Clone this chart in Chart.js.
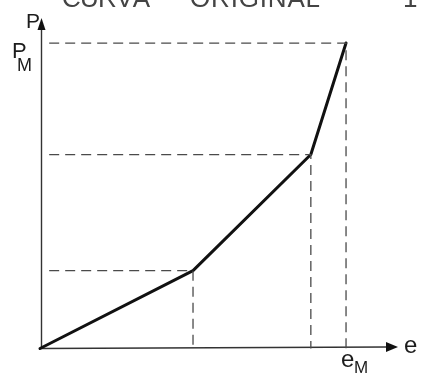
<!DOCTYPE html>
<html>
<head>
<meta charset="utf-8">
<script src="https://cdn.jsdelivr.net/npm/chart.js@4"></script>
<style>
  html, body { margin: 0; padding: 0; background: #fff; }
  #wrap { width: 425px; height: 378px; }
</style>
</head>
<body>
<div id="wrap"><canvas id="c" width="425" height="378"></canvas></div>
<script>
// Piecewise-linear load/strain curve, normalised so that e_M = 1 and p_M = 1
const strain = [0, 0.5, 0.885, 1];
const load = [0, 0.255, 0.635, 1];

// Axis extents (beyond the maximum point, up to the arrow tips)
const strainAxisMax = 1.16;
const loadAxisMax = 1.082;

// Text
const titleWords = ["CURVA", "ORIGINAL"];
const pageMark = "1";
const xAxisName = "e";
const yAxisName = "P";
const maxSubscript = "M";

const FONT = "'Liberation Sans', Arial, sans-serif";
const INK = "#1c1c1c";
const GUIDE = "#4a4a4a";

// Dashed reference lines from each breakpoint to both axes
const guideStart = 0.03;
const guideSets = [];
for (let i = 1; i < strain.length; i++) {
  guideSets.push({
    data: [
      { x: guideStart, y: load[i] },
      { x: strain[i], y: load[i] },
      { x: strain[i], y: 0 }
    ],
    showLine: true,
    borderColor: GUIDE,
    borderWidth: 1.3,
    borderDash: [10, 6],
    pointRadius: 0,
    fill: false,
    clip: false
  });
}

const curve = {
  data: strain.map((e, i) => ({ x: e, y: load[i] })),
  showLine: true,
  borderColor: "#111",
  borderWidth: 3,
  borderJoinStyle: "round",
  borderCapStyle: "round",
  pointRadius: 0,
  fill: false,
  clip: false
};

function fitWord(ctx, word, left, right, baseline) {
  // spread the letters of a word evenly between two x positions
  const chars = word.split("");
  const widths = chars.map(ch => ctx.measureText(ch).width);
  const total = widths.reduce((a, b) => a + b, 0);
  const gap = chars.length > 1 ? ((right - left) - total) / (chars.length - 1) : 0;
  let x = left;
  chars.forEach((ch, i) => {
    ctx.fillText(ch, x, baseline);
    x += widths[i] + gap;
  });
}

const axesPlugin = {
  id: "arrowAxes",
  beforeDatasetsDraw(chart) {
    const { ctx, scales } = chart;
    const x0 = scales.x.getPixelForValue(0);
    const y0 = scales.y.getPixelForValue(0);
    const xEnd = scales.x.getPixelForValue(strainAxisMax);
    const yEnd = scales.y.getPixelForValue(loadAxisMax);
    ctx.save();
    ctx.strokeStyle = "#333";
    ctx.lineWidth = 1.4;
    ctx.beginPath();
    ctx.moveTo(x0 + 1.5, y0);
    ctx.lineTo(x0 + 1.5, yEnd + 8);
    ctx.moveTo(x0, y0);
    ctx.lineTo(xEnd - 8, y0 - 1.5);
    ctx.stroke();
    ctx.fillStyle = "#111";
    // y arrow head
    ctx.beginPath();
    ctx.moveTo(x0 + 1.5, yEnd);
    ctx.lineTo(x0 - 2.5, yEnd + 12);
    ctx.lineTo(x0 + 5.5, yEnd + 12);
    ctx.closePath();
    ctx.fill();
    // x arrow head
    ctx.beginPath();
    ctx.moveTo(xEnd + 3, y0 - 1.5);
    ctx.lineTo(xEnd - 9, y0 - 6.5);
    ctx.lineTo(xEnd - 9, y0 + 3.5);
    ctx.closePath();
    ctx.fill();
    ctx.restore();
  },
  afterDraw(chart) {
    const { ctx, scales } = chart;
    const x0 = scales.x.getPixelForValue(0);
    const y0 = scales.y.getPixelForValue(0);
    const xEnd = scales.x.getPixelForValue(strainAxisMax);
    const yEnd = scales.y.getPixelForValue(loadAxisMax);
    const xM = scales.x.getPixelForValue(strain[strain.length - 1]);
    const yM = scales.y.getPixelForValue(load[load.length - 1]);
    ctx.save();
    ctx.textBaseline = "alphabetic";
    ctx.textAlign = "left";

    // title, partly above the top edge
    ctx.fillStyle = "#444";
    ctx.font = "26px " + FONT;
    fitWord(ctx, titleWords[0], 62, 150, 7);
    fitWord(ctx, titleWords[1], 190, 320, 7);
    ctx.fillText(pageMark, 403, 7);

    ctx.fillStyle = INK;
    // axis names
    ctx.font = "21px " + FONT;
    ctx.fillText(yAxisName, x0 - 14, yEnd + 10);
    ctx.font = "24px " + FONT;
    ctx.fillText(xAxisName, xEnd + 9, y0 + 4);

    // maximum labels
    ctx.font = "22px " + FONT;
    ctx.fillText(yAxisName, x0 - 28, yM + 15);
    ctx.font = "18px " + FONT;
    ctx.fillText(maxSubscript, x0 - 23, yM + 28);
    ctx.font = "24px " + FONT;
    ctx.fillText(xAxisName, xM - 5, y0 + 18);
    ctx.font = "17px " + FONT;
    ctx.fillText(maxSubscript, xM + 8, y0 + 24);
    ctx.restore();
  }
};

const whiteBg = {
  id: "whiteBg",
  beforeDraw(chart) {
    const { ctx, width, height } = chart;
    ctx.save();
    ctx.fillStyle = "#fff";
    ctx.fillRect(0, 0, width, height);
    ctx.restore();
  }
};

new Chart(document.getElementById("c"), {
  type: "scatter",
  data: { datasets: [...guideSets, curve] },
  options: {
    responsive: false,
    animation: false,
    devicePixelRatio: 1,
    layout: { padding: { left: 40, right: 30, top: 18, bottom: 29.5 } },
    plugins: { legend: { display: false }, tooltip: { enabled: false }, title: { display: false } },
    scales: {
      x: { type: "linear", min: 0, max: strainAxisMax, display: false },
      y: { type: "linear", min: 0, max: loadAxisMax, display: false }
    }
  },
  plugins: [whiteBg, axesPlugin]
});
</script>
</body>
</html>
